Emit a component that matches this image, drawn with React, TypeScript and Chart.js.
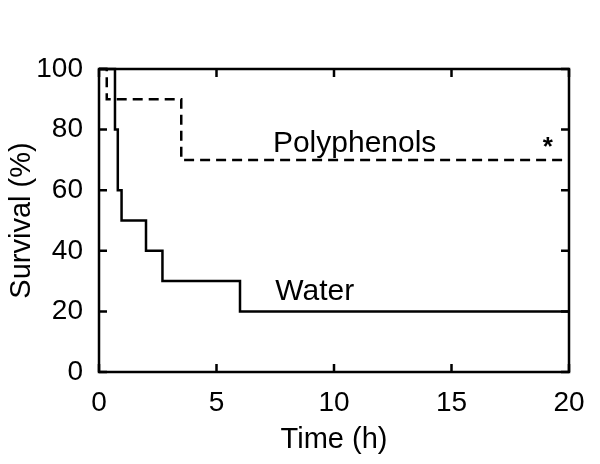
import React, { useEffect, useRef } from "react";
import { Chart, registerables } from "chart.js";

Chart.register(...registerables);

// Kaplan–Meier steps: time (h) at which survival (%) changes to the given value
const waterTimes = [0, 0.68, 0.8, 0.96, 2.0, 2.7, 6.0, 20];
const waterSurvival = [100, 80, 60, 50, 40, 30, 20, 20];
const polyTimes = [0, 0.33, 3.5, 20];
const polySurvival = [100, 90, 70, 70];

const xTicks = [0, 5, 10, 15, 20];
const yTicks = [0, 20, 40, 60, 80, 100];

// annotation labels [text, x (h), y (%)]
const annotations: [string, number, number][] = [
  ["Polyphenols", 7.4, 72.6],
  ["Water", 7.5, 23.8],
];
const starLabel: [string, number, number] = ["*", 19.1, 71.5];

const FONT = "'Liberation Sans', Arial, Helvetica, sans-serif";

const boxPlugin = {
  id: "boxAndLabels",
  afterDraw(chart: any) {
    const { ctx, chartArea } = chart;
    const xs = chart.scales.x;
    const ys = chart.scales.y;
    const { left, right, top, bottom } = chartArea;
    const tl = 8;
    ctx.save();
    ctx.strokeStyle = "#000";
    ctx.lineWidth = 2.5;
    ctx.beginPath();
    ctx.rect(left, top, right - left, bottom - top);
    ctx.stroke();
    ctx.beginPath();
    xTicks.forEach((v) => {
      const px = xs.getPixelForValue(v);
      ctx.moveTo(px, bottom);
      ctx.lineTo(px, bottom - tl);
      ctx.moveTo(px, top);
      ctx.lineTo(px, top + tl);
    });
    yTicks.forEach((v) => {
      const py = ys.getPixelForValue(v);
      ctx.moveTo(left, py);
      ctx.lineTo(left + tl, py);
      ctx.moveTo(right, py);
      ctx.lineTo(right - tl, py);
    });
    ctx.stroke();
    ctx.fillStyle = "#000";
    ctx.font = `30px ${FONT}`;
    ctx.textAlign = "left";
    ctx.textBaseline = "alphabetic";
    annotations.forEach(([t, x, y]) => {
      ctx.fillText(t, xs.getPixelForValue(x), ys.getPixelForValue(y));
    });
    ctx.textAlign = "center";
    ctx.font = `bold 26px ${FONT}`;
    ctx.fillText(starLabel[0], xs.getPixelForValue(starLabel[1]), ys.getPixelForValue(starLabel[2]));
    ctx.restore();
  },
};

export default function App() {
  const ref = useRef<HTMLCanvasElement | null>(null);
  useEffect(() => {
    if (!ref.current) return;
    const chart = new Chart(ref.current, {
      type: "line",
      data: {
        datasets: [
          {
            label: "Water",
            data: waterTimes.map((t, i) => ({ x: t, y: waterSurvival[i] })),
            borderColor: "#000",
            borderWidth: 2.5,
            pointRadius: 0,
            stepped: "before",
            fill: false,
          },
          {
            label: "Polyphenols",
            data: polyTimes.map((t, i) => ({ x: t, y: polySurvival[i] })),
            borderColor: "#000",
            borderWidth: 2.5,
            borderDash: [10, 6],
            pointRadius: 0,
            stepped: "before",
            fill: false,
          },
        ],
      },
      options: {
        animation: false,
        responsive: false,
        clip: false as any,
        layout: { padding: { top: 69, right: 31, left: 0, bottom: 0 } },
        plugins: { legend: { display: false }, tooltip: { enabled: false } },
        scales: {
          x: {
            type: "linear",
            min: 0,
            max: 20,
            afterFit: (s: any) => {
              s.height = 92;
            },
            afterBuildTicks: (s: any) => {
              s.ticks = xTicks.map((v) => ({ value: v }));
            },
            grid: { display: false, drawTicks: false },
            border: { display: false },
            ticks: {
              color: "#000",
              padding: 14,
              maxRotation: 0,
              font: { family: FONT, size: 28 },
            },
            title: {
              display: true,
              text: "Time (h)",
              color: "#000",
              padding: 7,
              font: { family: FONT, size: 29 },
            },
          },
          y: {
            type: "linear",
            min: 0,
            max: 100,
            afterFit: (s: any) => {
              s.width = 99;
            },
            afterBuildTicks: (s: any) => {
              s.ticks = yTicks.map((v) => ({ value: v }));
            },
            grid: { display: false, drawTicks: false },
            border: { display: false },
            ticks: {
              color: "#000",
              padding: 16,
              font: { family: FONT, size: 28 },
            },
            title: {
              display: true,
              text: "Survival (%)",
              color: "#000",
              padding: 5,
              font: { family: FONT, size: 29 },
            },
          },
        },
      },
      plugins: [boxPlugin],
    });
    return () => chart.destroy();
  }, []);
  return (
    <div style={{ position: "absolute", left: 0, top: 0, width: 600, height: 464, background: "#fff" }}>
      <canvas ref={ref} width={600} height={464} style={{ width: 600, height: 464 }} />
    </div>
  );
}
